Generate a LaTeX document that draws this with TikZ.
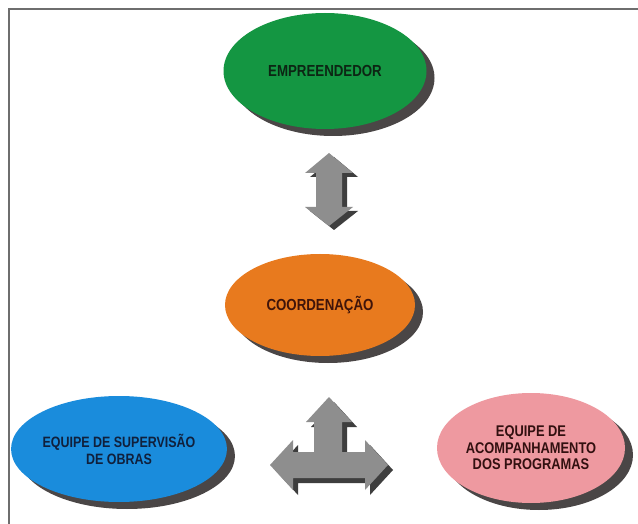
\documentclass[tikz,border=0pt]{standalone}
\usepackage{fontspec}
\newfontfamily\labelfont[FakeStretch=0.83]{Liberation Sans}
\usetikzlibrary{shapes.geometric,shadows}
\definecolor{framegray}{RGB}{110,110,110}
\definecolor{empgreen}{RGB}{20,150,66}
\definecolor{empgreentxt}{RGB}{12,38,20}
\definecolor{coordorange}{RGB}{232,122,30}
\definecolor{coordtxt}{RGB}{64,20,10}
\definecolor{supblue}{RGB}{26,140,220}
\definecolor{suptxt}{RGB}{16,32,60}
\definecolor{acppink}{RGB}{238,153,160}
\definecolor{acptxt}{RGB}{50,16,16}
\definecolor{shadowgray}{RGB}{74,70,70}
\definecolor{arrowgray}{RGB}{142,142,142}
\definecolor{arrowshadow}{RGB}{62,62,62}
\begin{document}
\begin{tikzpicture}[x=1pt,y=-1pt,
  bubble/.style={ellipse, inner sep=0pt, align=center,
    drop shadow={shadow xshift=8pt, shadow yshift=-7pt, fill=shadowgray, opacity=1}},
  blockarrow/.style={fill=arrowgray, draw=none},
  blockshadow/.style={fill=arrowshadow, draw=none}]
\useasboundingbox (0,0) rectangle (638,524);
\fill[white] (0,0) rectangle (638,524);
\draw[framegray, line width=1.6pt] (9,524) -- (9,9) -- (638,9);

\node[bubble, fill=empgreen, text=empgreentxt, minimum width=203pt, minimum height=116pt,
  font=\labelfont\bfseries\fontsize{16}{17}\selectfont] (emp) at (325,71) {EMPREENDEDOR};
\node[bubble, fill=coordorange, text=coordtxt, minimum width=190pt, minimum height=102pt,
  font=\labelfont\bfseries\fontsize{16}{17}\selectfont] (coord) at (320,305) {COORDENAÇÃO};
\node[bubble, fill=supblue, text=suptxt, minimum width=202pt, minimum height=106pt,
  font=\labelfont\bfseries\fontsize{15}{17}\selectfont] (sup) at (119,449) {EQUIPE DE SUPERVISÃO\\DE OBRAS};
\node[bubble, fill=acppink, text=acptxt, minimum width=188pt, minimum height=110pt,
  font=\labelfont\bfseries\fontsize{15.5}{16.5}\selectfont] (acp) at (531,448) {EQUIPE DE\\ACOMPANHAMENTO\\DOS PROGRAMAS};

% double arrow between EMPREENDEDOR and COORDENACAO
\coordinate (ud) at (329,190);
\begin{scope}[shift={(ud)}]
  \fill[blockshadow, shift={(5,4)}] (0,-37) -- (24,-17) -- (13,-17) -- (13,17) -- (24,17) -- (0,36)
    -- (-24,17) -- (-13,17) -- (-13,-17) -- (-24,-17) -- cycle;
  \fill[blockarrow] (0,-37) -- (24,-17) -- (13,-17) -- (13,17) -- (24,17) -- (0,36)
    -- (-24,17) -- (-13,17) -- (-13,-17) -- (-24,-17) -- cycle;
\end{scope}

% three-way arrow
\coordinate (tw) at (329,465);
\begin{scope}[shift={(tw)}]
  \fill[blockshadow, shift={(5,5)}] (0,-68) -- (23,-43) -- (13,-43) -- (13,-13) -- (36,-13) -- (36,-25)
    -- (59,0) -- (36,25) -- (36,13) -- (-36,13) -- (-36,25) -- (-59,0) -- (-36,-25) -- (-36,-13)
    -- (-15,-13) -- (-15,-43) -- (-23,-43) -- cycle;
  \fill[blockarrow] (0,-68) -- (23,-43) -- (13,-43) -- (13,-13) -- (36,-13) -- (36,-25)
    -- (59,0) -- (36,25) -- (36,13) -- (-36,13) -- (-36,25) -- (-59,0) -- (-36,-25) -- (-36,-13)
    -- (-15,-13) -- (-15,-43) -- (-23,-43) -- cycle;
\end{scope}
\end{tikzpicture}
\end{document}
